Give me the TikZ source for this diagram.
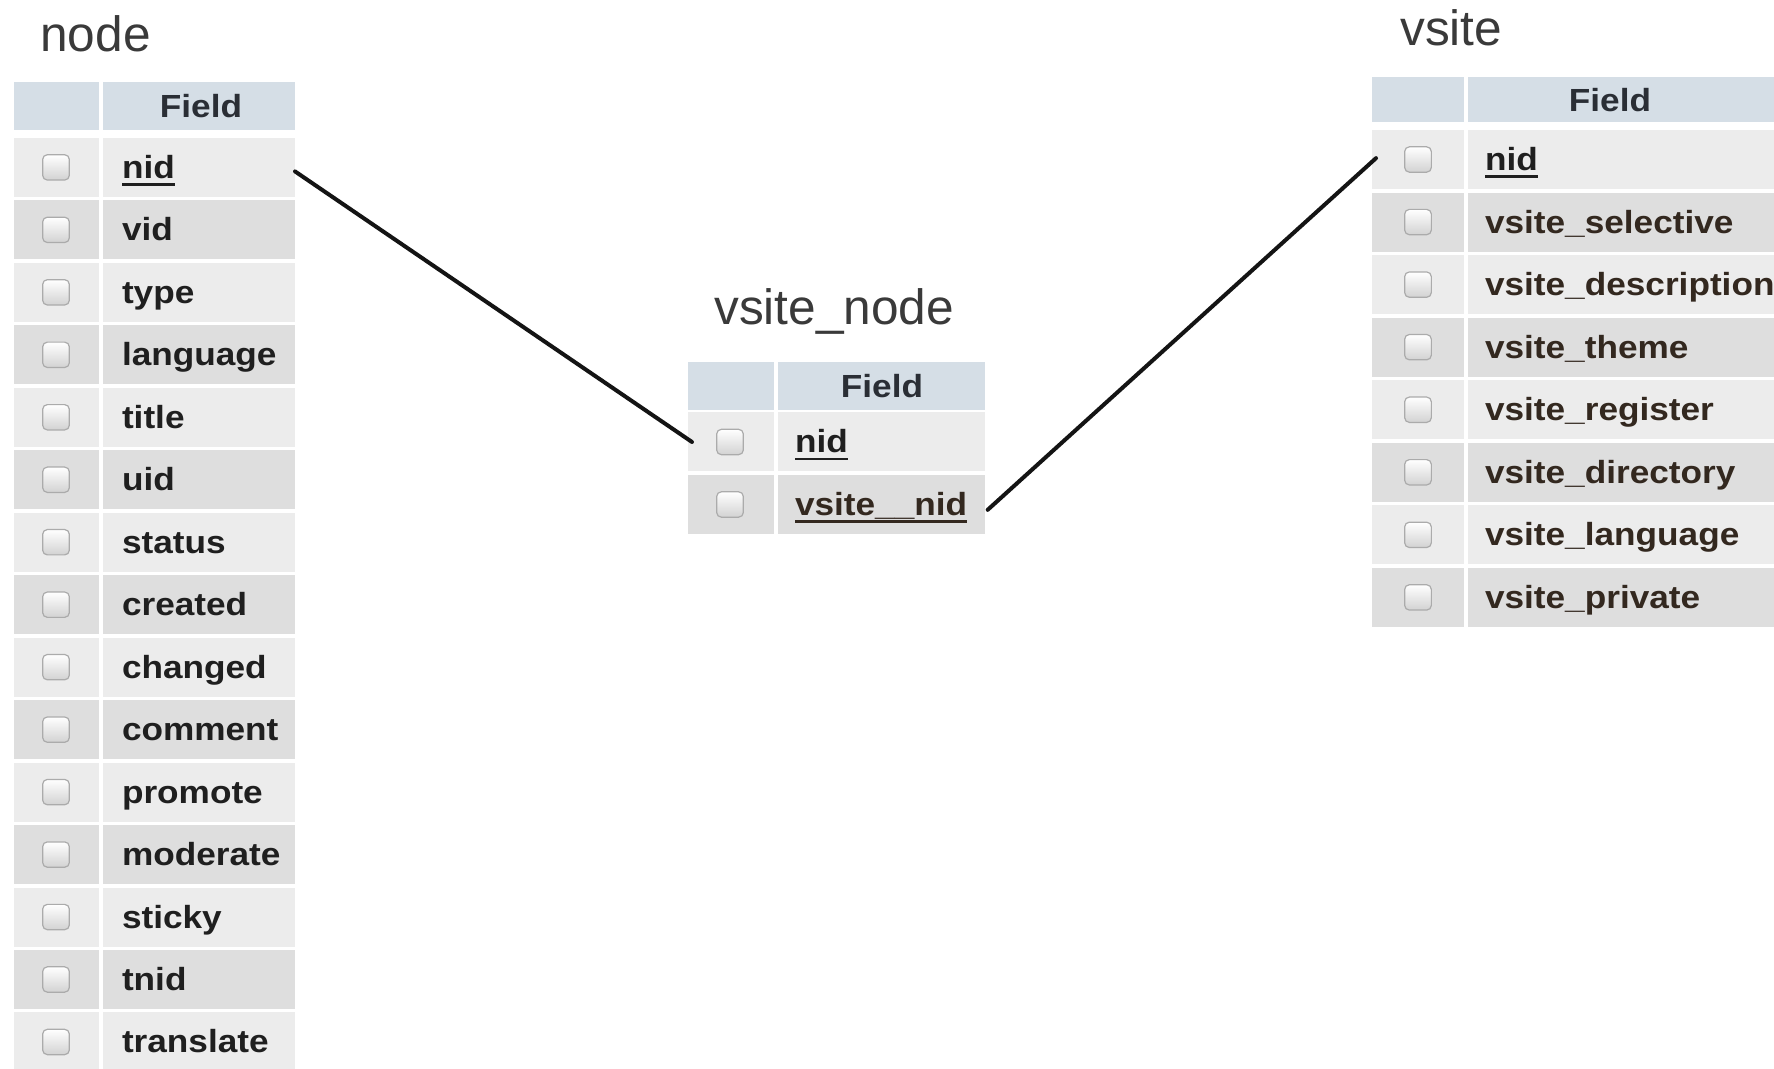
\documentclass[tikz,border=0pt]{standalone}
\usepackage{fontspec}
\setmainfont{Liberation Sans}
\newfontfamily\fieldfont[FakeStretch=1.1]{Liberation Sans}
\definecolor{hdrc}{HTML}{D5DEE6}
\definecolor{rowL}{HTML}{ECECEC}
\definecolor{rowD}{HTML}{DEDEDE}
\definecolor{titlec}{HTML}{3A3A3A}
\definecolor{fieldc}{HTML}{1F1F1F}
\definecolor{fbrown}{HTML}{33281F}
\definecolor{hdrtext}{HTML}{2A2E35}
\definecolor{chkb}{HTML}{ABABAB}
\definecolor{chkbot}{HTML}{D2D2D2}
\definecolor{linec}{HTML}{141414}
\begin{document}
\begin{tikzpicture}[x=0.75pt,y=-0.75pt,
  tcell/.style 2 args={minimum width=#1*0.75pt, minimum height=#2*0.75pt, inner sep=0pt, outer sep=0pt, draw=none},
  chk/.style={rounded corners=3.5pt, minimum width=20pt, minimum height=19pt, inner sep=0pt, draw=chkb, line width=0.9pt, top color=white, bottom color=chkbot},
  ftext/.style={anchor=base west, inner sep=0pt, outer sep=0pt, text=fieldc, font={\fieldfont\fontsize{24}{28}\bfseries\selectfont}},
  fhdr/.style={anchor=base, inner sep=0pt, text=hdrtext, font={\fieldfont\fontsize{24}{28}\bfseries\selectfont}},
  ttl/.style={anchor=base west, inner sep=0pt, text=titlec, font={\fontsize{37.2}{44}\selectfont}},
  ulin/.style={line width=2.2pt, draw=fieldc},
  divider/.style={draw=white, line width=3pt},
  link/.style={draw=linec, line width=3pt, line cap=round}
]
\useasboundingbox[fill=white] (0,0) rectangle (1774,1069);

% ---------------- node table ----------------
\node[ttl] (tnode) at (40,52) {node};
\node[tcell={281}{48}, fill=hdrc] (nh) at (154.5,106) {};
\foreach \t [count=\i from 0] in {nid,vid,type,language,title,uid,status,created,changed,comment,promote,moderate,sticky,tnid,translate}{
  \pgfmathsetmacro\yc{167.4+62.47*\i}
  \ifodd\i \def\rc{rowD}\else\def\rc{rowL}\fi
  \node[tcell={281}{59}, fill=\rc] (nr\i) at (154.5,\yc) {};
  \node[chk] (nc\i) at (56,\yc) {};
  \node[ftext] (nt\i) at (122,\yc+11) {\t};
}
\draw[divider] (100.5,82) -- (100.5,1069);
\node[fhdr] (nf) at (201,118) {Field};
\draw[ulin] ([yshift=-4.5pt]nt0.base west) -- ([yshift=-4.5pt]nt0.base east);

% ---------------- vsite_node table ----------------
\node[ttl] (tvn) at (714,325) {vsite\_node};
\node[tcell={297}{48}, fill=hdrc] (mh) at (836.5,386) {};
\node[tcell={297}{59}, fill=rowL] (mr0) at (836.5,442) {};
\node[tcell={297}{59}, fill=rowD] (mr1) at (836.5,504.5) {};
\node[chk] (mc0) at (730,442) {};
\node[chk] (mc1) at (730,504.5) {};
\draw[divider] (775.5,362) -- (775.5,534);
\node[fhdr] (mf) at (882,398) {Field};
\node[ftext] (mt0) at (795,453) {nid};
\node[ftext, text=fbrown] (mt1) at (795,515.5) {vsite\_\_nid};
\draw[ulin] ([yshift=-4.5pt]mt0.base west) -- ([yshift=-4.5pt]mt0.base east);
\draw[ulin, draw=fbrown] ([yshift=-4.5pt]mt1.base west) -- ([yshift=-4.5pt]mt1.base east);

% ---------------- vsite table ----------------
\node[ttl] (tvs) at (1400,46) {vsite};
\node[tcell={402}{45}, fill=hdrc] (vh) at (1573,99.5) {};
\foreach \t [count=\i from 0] in {nid,vsite\_selective,vsite\_description,vsite\_theme,vsite\_register,vsite\_directory,vsite\_language,vsite\_private}{
  \pgfmathsetmacro\yc{159.5+62.56*\i}
  \ifodd\i \def\rc{rowD}\else\def\rc{rowL}\fi
  \ifnum\i>0 \def\tc{fbrown}\else\def\tc{fieldc}\fi
  \node[tcell={402}{59}, fill=\rc] (vr\i) at (1573,\yc) {};
  \node[chk] (vc\i) at (1418,\yc) {};
  \node[ftext, text=\tc] (vt\i) at (1485,\yc+11) {\t};
}
\draw[divider] (1465.5,77) -- (1465.5,627);
\node[fhdr] (vf) at (1610,111.5) {Field};
\draw[ulin] ([yshift=-4.5pt]vt0.base west) -- ([yshift=-4.5pt]vt0.base east);

% ---------------- connectors ----------------
\draw[link] ([yshift=-3pt]nr0.east) -- ([xshift=3pt]mr0.west);
\draw[link] ([xshift=2pt,yshift=-4pt]mr1.east) -- ([xshift=3pt,yshift=1pt]vr0.west);
\end{tikzpicture}
\end{document}
